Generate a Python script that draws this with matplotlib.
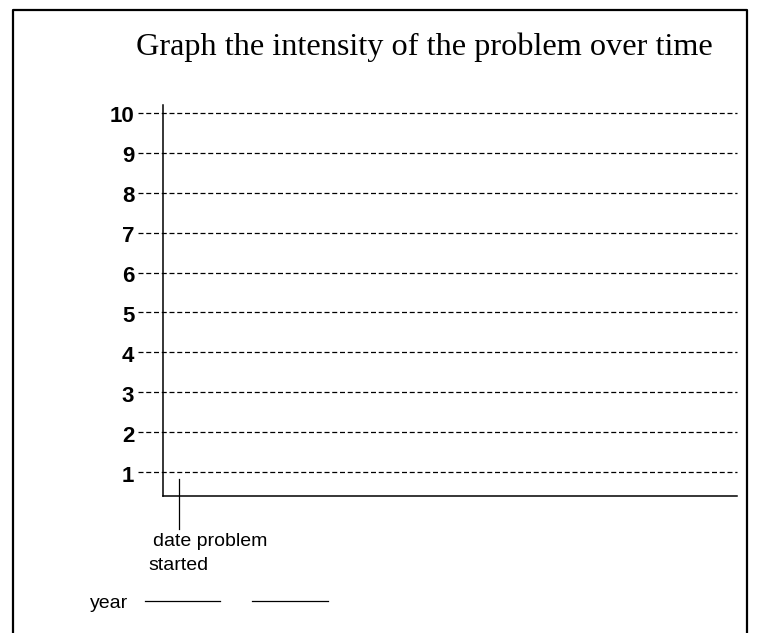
import matplotlib
matplotlib.use("Agg")
import matplotlib.pyplot as plt

# intensity levels on the y axis
levels = [1, 2, 3, 4, 5, 6, 7, 8, 9, 10]
level_labels = [str(v) for v in levels]
title = "Graph the intensity of the problem over time"
start_label_1 = "date problem"
start_label_2 = "started"
year_label = "year"

sans = ['Liberation Sans Narrow', 'Liberation Sans', 'DejaVu Sans']
serif = ['Liberation Serif', 'DejaVu Serif']

W, H = 758, 633
fig = plt.figure(figsize=(W / 100, H / 100), dpi=100)

# page frame (open at the bottom)
fig.add_artist(plt.Line2D([13/W, 13/W, 747/W, 747/W],
                          [0, 1 - 10/H, 1 - 10/H, 0],
                          transform=fig.transFigure, color='black', lw=1.6))

ax = fig.add_axes([163/W, 1 - 496/H, (737 - 163)/W, (496 - 105)/H])
ax.set_xlim(0, 1)
ax.set_ylim(0.4, 10.2)
for s in ['top', 'right']:
    ax.spines[s].set_visible(False)
ax.spines['left'].set_linewidth(1.1)
ax.spines['bottom'].set_linewidth(1.1)
ax.set_xticks([])
ax.set_yticks([])

trans = ax.get_yaxis_transform()
for v, lab in zip(levels, level_labels):
    # dashed guide line, starting left of the axis
    ax.plot([-0.043, 1.0], [v, v], transform=trans, color='black', lw=0.9,
            linestyle=(0, (4, 2.2)), clip_on=False)
    ax.text(-0.05, v - 0.1, lab, transform=trans, fontsize=16,
            fontweight='bold', family=sans, ha='right', va='center')

# marker for the start date
ax.plot([0.028, 0.028], [0.83, -0.43], color='black', lw=0.9, clip_on=False)
fig.text(153/W, 1 - 541/H, start_label_1, fontsize=14, family=sans, va='center')
fig.text(148/W, 1 - 566/H, start_label_2, fontsize=14, family=sans, va='center')

fig.text(90/W, 1 - 603/H, year_label, fontsize=14, family=sans, va='center')
fig.add_artist(plt.Line2D([145/W, 220/W], [1 - 601/H] * 2,
                          transform=fig.transFigure, color='black', lw=0.9))
fig.add_artist(plt.Line2D([252/W, 328/W], [1 - 601/H] * 2,
                          transform=fig.transFigure, color='black', lw=0.9))

fig.text(424/W, 1 - 47/H, title, fontsize=23.2, family=serif,
         ha='center', va='center')

fig.savefig("out.png", dpi=100)
